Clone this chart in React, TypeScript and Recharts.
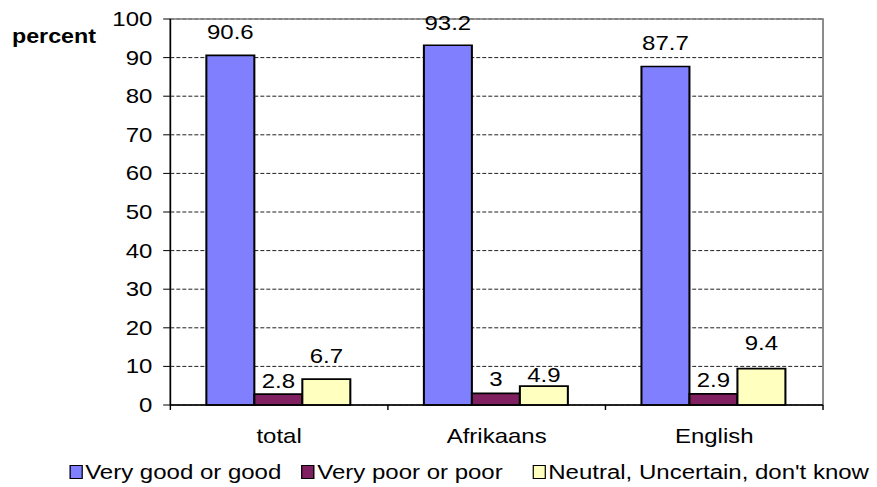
import React from 'react';
import {
  BarChart, Bar, XAxis, YAxis, CartesianGrid, Legend, LabelList, ReferenceArea,
} from 'recharts';

// values
const categories = ['total', 'Afrikaans', 'English'];
const veryGoodOrGood = [90.6, 93.2, 87.7];
const veryPoorOrPoor = [2.8, 3, 2.9];
const neutralUncertain = [6.7, 4.9, 9.4];
const yTicks = [0, 10, 20, 30, 40, 50, 60, 70, 80, 90, 100];

const SERIES = [
  { key: 'good', label: 'Very good or good', color: '#8080FF', values: veryGoodOrGood },
  { key: 'poor', label: 'Very poor or poor', color: '#802060', values: veryPoorOrPoor },
  { key: 'neutral', label: "Neutral, Uncertain, don't know", color: '#FFFFC0', values: neutralUncertain },
];

// how far each value label sits above its bar (the original had some moved by hand)
const LABEL_LIFT: Record<string, number[]> = {
  good: [16, 15, 16.5],
  poor: [6.5, 7, 6.5],
  neutral: [16.5, 4.5, 18.5],
};

// space after each legend entry
const LEGEND_GAP = [17, 25, 0];

const data = categories.map((name, i) => {
  const row: Record<string, string | number> = { name };
  SERIES.forEach(s => { row[s.key] = s.values[i]; });
  return row;
});

// the source picture is stretched sideways, so the chart is drawn narrower and scaled out
const OUT_W = 877;
const OUT_H = 487;
const CHART_W = 731;
const STRETCH = OUT_W / CHART_W;
const Y_AXIS_W = 142;
const MARGIN = { top: 19, right: 45, left: 0, bottom: 0 };
const BAND = (CHART_W - Y_AXIS_W - MARGIN.right) / categories.length;
const FONT = 20;

const CategoryTick = (props: any) => {
  const { x, y, payload, index } = props;
  const left = x - BAND / 2;
  return (
    <g>
      <line x1={left} x2={left} y1={y} y2={y + 5} stroke="#000" strokeWidth={1.2} />
      {index === categories.length - 1 && (
        <line x1={x + BAND / 2} x2={x + BAND / 2} y1={y} y2={y + 5} stroke="#000" strokeWidth={1.2} />
      )}
      <text x={x} y={y + 38} textAnchor="middle" fontSize={FONT} fill="#000">{payload.value}</text>
    </g>
  );
};

const valueLabel = (seriesKey: string) => (props: any) => {
  const { x, y, width, value, index } = props;
  const lift = LABEL_LIFT[seriesKey][index] ?? 8;
  return (
    <text x={x + width / 2} y={y - lift} textAnchor="middle" fontSize={FONT} fill="#000">
      {value}
    </text>
  );
};

const LegendContent = () => (
  <div style={{ display: 'flex', alignItems: 'center', fontSize: FONT, lineHeight: '24px', color: '#000', whiteSpace: 'nowrap' }}>
    {SERIES.map((s, i) => (
      <span key={s.key} style={{ display: 'inline-flex', alignItems: 'center', marginRight: LEGEND_GAP[i] }}>
        <span
          style={{
            width: 11, height: 13.5, background: s.color, border: '1.6px solid #000',
            boxSizing: 'border-box', marginRight: 2, display: 'inline-block',
          }}
        />
        {s.label}
      </span>
    ))}
  </div>
);

export default function App() {
  return (
    <div
      style={{
        position: 'absolute', left: 0, top: 0, width: OUT_W, height: OUT_H, overflow: 'hidden',
        background: '#fff', fontFamily: '"Liberation Sans", Arial, sans-serif',
      }}
    >
      <div style={{ width: CHART_W, height: OUT_H, transform: `scaleX(${STRETCH})`, transformOrigin: '0 0' }}>
        <BarChart
          width={CHART_W}
          height={OUT_H}
          data={data}
          margin={MARGIN}
          barGap={0}
          barCategoryGap={30}
        >
          <CartesianGrid horizontal vertical={false} stroke="#000" strokeWidth={0.8} strokeDasharray="3.3 1.7" />
          <ReferenceArea x1="total" x2="English" y1={0} y2={100} fill="none" stroke="#808080" strokeWidth={1.5} />
          {SERIES.map(s => (
            <Bar
              key={s.key}
              dataKey={s.key}
              name={s.label}
              fill={s.color}
              stroke="#000"
              strokeWidth={1.7}
              isAnimationActive={false}
            >
              <LabelList dataKey={s.key} content={valueLabel(s.key)} />
            </Bar>
          ))}
          <XAxis
            dataKey="name"
            height={82}
            interval={0}
            tickLine={false}
            tickSize={0}
            tickMargin={0}
            axisLine={{ stroke: '#000', strokeWidth: 1.5 }}
            tick={<CategoryTick />}
          />
          <YAxis
            width={Y_AXIS_W}
            domain={[0, 100]}
            ticks={yTicks}
            interval={0}
            tickSize={6}
            tickMargin={9}
            axisLine={{ stroke: '#000', strokeWidth: 1.2 }}
            tickLine={{ stroke: '#000', strokeWidth: 1 }}
            tick={{ fontSize: FONT, fill: '#000' }}
            label={{ value: 'percent', position: 'insideTopLeft', offset: 10, fontSize: 19.4, fontWeight: 'bold', fill: '#000' }}
          />
          <Legend
            layout="horizontal"
            verticalAlign="middle"
            align="center"
            content={<LegendContent />}
            wrapperStyle={{ top: 460, left: 58, width: 673, height: 24 }}
          />
        </BarChart>
      </div>
    </div>
  );
}
